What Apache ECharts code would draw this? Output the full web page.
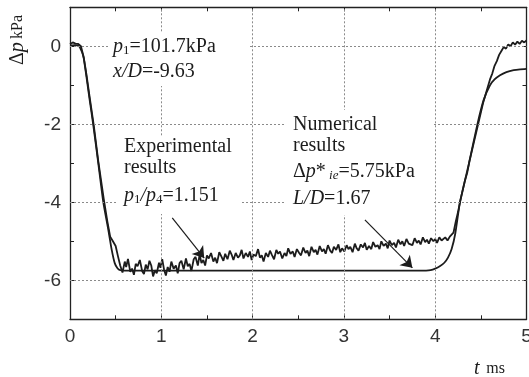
<!DOCTYPE html>
<html><head><meta charset="utf-8">
<script src="https://cdn.jsdelivr.net/npm/echarts@6/dist/echarts.min.js"></script>
<style>html,body{margin:0;padding:0;background:#fff}#c{width:529px;height:377px}</style>
</head><body><div id="c"></div>
<script>
// ---- data ----
const xGridValues = [1, 2, 3, 4];
const yGridValues = [0, -2, -4, -6];
const numTime = [0, 0.05, 0.1, 0.13, 0.15, 0.18, 0.22, 0.255, 0.31, 0.365, 0.42, 0.457, 0.49, 0.52, 0.55, 0.6, 3.9, 3.95, 4.0, 4.05, 4.1, 4.14, 4.18, 4.22, 4.27, 4.37, 4.46, 4.53, 4.6, 4.65, 4.71, 4.78, 4.86, 4.93, 5.0];
const numDp = [0.02, 0.03, 0.0, -0.14, -0.3, -0.78, -1.45, -2.02, -3.0, -4.0, -4.71, -5.22, -5.56, -5.69, -5.74, -5.75, -5.75, -5.74, -5.7, -5.64, -5.55, -5.42, -5.2, -4.8, -4.02, -3.0, -2.02, -1.38, -1.0, -0.85, -0.74, -0.66, -0.61, -0.59, -0.58];
const expPoints = [
 [0,0.05],[0.03,0.1],[0.06,0.07],[0.09,0.06],[0.12,0.0],[0.15,-0.28],[0.18,-0.72],[0.22,-1.38],[0.26,-2.02],[0.31,-2.95],[0.37,-3.92],[0.41,-4.5],[0.44,-4.88],[0.47,-5.0],[0.5,-5.12],[0.525,-5.38],[0.55,-5.62],
 [0.575,-5.8],[0.6,-5.52],[0.615,-5.66],[0.635,-5.45],[0.66,-5.78],[0.68,-5.7],[0.7,-5.86],[0.72,-5.58],[0.74,-5.64],[0.765,-5.48],[0.79,-5.76],[0.81,-5.84],[0.83,-5.6],[0.85,-5.72],[0.87,-5.5],[0.89,-5.62],[0.91,-5.9],[0.93,-5.74],[0.95,-5.82],[0.975,-5.55],[0.99,-5.68],[1.01,-5.46],[1.03,-5.72],[1.05,-5.88],[1.07,-5.66],[1.09,-5.78],[1.11,-5.52],[1.135,-5.7],[1.16,-5.62],[1.18,-5.82],[1.2,-5.56],[1.22,-5.5],[1.245,-5.72],[1.27,-5.44],[1.29,-5.64],[1.31,-5.58],[1.33,-5.76],[1.355,-5.46],[1.375,-5.4],[1.4,-5.62],[1.42,-5.34],[1.44,-5.56],[1.46,-5.48],[1.48,-5.62],[1.5,-5.36],[1.52,-5.44],[1.545,-5.3],[1.57,-5.52],[1.59,-5.42],[1.61,-5.56],[1.635,-5.28],[1.66,-5.4],[1.68,-5.5],[1.7,-5.32],[1.725,-5.46],[1.75,-5.24],[1.77,-5.34],[1.79,-5.48],[1.815,-5.3],[1.84,-5.42],[1.86,-5.36],[1.88,-5.22],[1.9,-5.44],[1.925,-5.3],[1.95,-5.4],[1.97,-5.26],[1.99,-5.48],[2.01,-5.34],[2.035,-5.38],[2.06,-5.2],[2.08,-5.42],[2.1,-5.36],[2.12,-5.52],[2.145,-5.3],[2.17,-5.4],[2.19,-5.24],[2.21,-5.34],[2.235,-5.46],[2.26,-5.22],[2.28,-5.32],[2.3,-5.26],[2.325,-5.44],[2.35,-5.3],[2.37,-5.38],[2.39,-5.18],[2.415,-5.32],[2.44,-5.26],[2.46,-5.4],[2.485,-5.2],[2.51,-5.3],[2.53,-5.36],[2.555,-5.16],[2.58,-5.3],[2.6,-5.24],[2.62,-5.38],[2.645,-5.14],[2.67,-5.28],[2.69,-5.22],[2.71,-5.34],[2.735,-5.12],[2.76,-5.26],[2.78,-5.2],[2.8,-5.32],[2.825,-5.1],[2.85,-5.24],[2.87,-5.3],[2.89,-5.14],[2.915,-5.22],[2.94,-5.08],[2.96,-5.28],[2.98,-5.18],[3.005,-5.26],[3.03,-5.1],[3.05,-5.2],[3.07,-5.14],[3.095,-5.28],[3.12,-5.06],[3.14,-5.18],[3.16,-5.24],[3.185,-5.08],[3.21,-5.16],[3.23,-5.04],[3.25,-5.22],[3.275,-5.12],[3.3,-5.2],[3.32,-5.02],[3.345,-5.14],[3.37,-5.1],[3.39,-5.2],[3.41,-5.0],[3.435,-5.12],[3.46,-5.06],[3.48,-5.18],[3.5,-4.98],[3.525,-5.1],[3.55,-5.04],[3.57,-5.16],[3.595,-4.96],[3.62,-5.08],[3.64,-5.0],[3.66,-5.12],[3.685,-4.94],[3.71,-5.06],[3.73,-5.02],[3.75,-5.1],[3.775,-4.92],[3.8,-5.04],[3.82,-4.98],[3.84,-5.08],[3.865,-4.9],[3.89,-5.02],[3.91,-4.96],[3.93,-5.06],[3.955,-4.92],[3.98,-5.0],[4.0,-4.94],[4.02,-5.04],[4.045,-4.9],[4.07,-4.98],[4.09,-5.02],[4.11,-4.9],[4.135,-4.98],[4.16,-4.88],[4.18,-4.92],
 [4.2,-4.78],[4.225,-4.5],[4.25,-4.25],[4.275,-3.95],[4.3,-3.7],[4.325,-3.45],[4.35,-3.25],[4.375,-2.95],[4.4,-2.7],[4.425,-2.45],[4.45,-2.2],[4.475,-1.95],[4.5,-1.7],[4.525,-1.45],[4.55,-1.25],[4.575,-1.05],[4.6,-0.85],[4.625,-0.7],[4.65,-0.5],[4.675,-0.38],[4.7,-0.22],[4.725,-0.12],[4.75,-0.02],[4.775,-0.06],[4.8,0.05],[4.825,0.0],[4.85,0.1],[4.875,0.04],[4.9,0.12],[4.925,0.06],[4.95,0.14],[4.975,0.1],[5.0,0.15]
];
const expArrow = [[1.12, -4.40], [1.47, -5.43]];
const numArrow = [[3.23, -4.45], [3.75, -5.68]];

// ---- chart ----
const SANS = '"Liberation Sans", Arial, sans-serif';
const SERIF = '"Liberation Serif", "DejaVu Serif", serif';
const INK = '#1c1c1c';
const numPoints = numTime.map((t, i) => [t, numDp[i]]);

const rich = {
  n: {fontFamily: SERIF, fontSize: 20, lineHeight: 21, color: INK},
  i: {fontFamily: SERIF, fontSize: 20, lineHeight: 21, color: INK, fontStyle: 'italic'},
  s: {fontFamily: SERIF, fontSize: 13, lineHeight: 13, color: INK, verticalAlign: 'bottom'},
  si: {fontFamily: SERIF, fontSize: 13, lineHeight: 13, color: INK, fontStyle: 'italic', verticalAlign: 'bottom'},
  k: {fontFamily: SERIF, fontSize: 16, lineHeight: 21, color: INK}
};
function txt(x, y, text, extra) {
  return Object.assign({type: 'text', x: x, y: y, z: 60,
    style: {text: text, rich: rich, align: 'left', verticalAlign: 'middle', fill: INK}}, extra || {});
}
function box(x, y, w, h) {
  return {type: 'rect', z: 50, shape: {x: x, y: y, width: w, height: h}, style: {fill: '#fff'}};
}

const xAxisBase = {
  type: 'value', min: 0, max: 5, interval: 0.5,
  axisLine: {show: true, onZero: false, lineStyle: {color: '#222', width: 1.3}},
  axisTick: {show: true, inside: true, length: 4, lineStyle: {color: '#222', width: 1}},
  splitLine: {show: false}
};
const yAxisBase = {
  type: 'value', min: -7, max: 1, interval: 1,
  axisLine: {show: true, onZero: false, lineStyle: {color: '#222', width: 1.3}},
  axisTick: {show: true, inside: true, length: 4, lineStyle: {color: '#222', width: 1}},
  splitLine: {show: false}
};

const chart = echarts.init(document.getElementById('c'), null, {renderer: 'canvas'});
chart.setOption({
  animation: false,
  backgroundColor: '#fff',
  grid: {left: 70, right: 2.5, top: 7.3, bottom: 57.7, containLabel: false, outerBoundsMode: 'none'},
  xAxis: [
    Object.assign({}, xAxisBase, {position: 'bottom',
      axisLabel: {formatter: v => (Number.isInteger(v) ? String(v) : ''), fontFamily: SANS, fontSize: 19, color: '#333', margin: 8}}),
    Object.assign({}, xAxisBase, {position: 'top', axisLabel: {show: false}})
  ],
  yAxis: [
    Object.assign({}, yAxisBase, {position: 'left',
      axisLabel: {formatter: v => (v % 2 === 0 ? String(v) : ''), fontFamily: SANS, fontSize: 19, color: '#333', margin: 9}}),
    Object.assign({}, yAxisBase, {position: 'right', axisLabel: {show: false}})
  ],
  series: [
    {
      type: 'line', data: [[0, 0]], showSymbol: false, silent: true, z: 1,
      lineStyle: {opacity: 0},
      markLine: {
        silent: true, symbol: ['none', 'none'], label: {show: false},
        lineStyle: {type: [2, 2], color: '#8a8a8a', width: 1},
        emphasis: {disabled: true},
        data: yGridValues.map(v => ({yAxis: v})).concat(xGridValues.map(v => ({xAxis: v})))
      }
    },
    {
      name: 'Experimental', type: 'line', data: expPoints, showSymbol: false, z: 3,
      lineStyle: {color: INK, width: 1.8}, itemStyle: {color: INK},
      markLine: {
        silent: true, symbol: ['none', 'arrow'], symbolSize: 11, label: {show: false},
        lineStyle: {type: 'solid', color: INK, width: 1.2},
        emphasis: {disabled: true},
        data: [
          [{coord: expArrow[0]}, {coord: expArrow[1]}],
          [{coord: numArrow[0]}, {coord: numArrow[1]}]
        ]
      }
    },
    {
      name: 'Numerical', type: 'line', data: numPoints, showSymbol: false, z: 4, smooth: 0.2,
      lineStyle: {color: INK, width: 1.8}, itemStyle: {color: INK}
    }
  ],
  graphic: [
    box(108, 32, 141, 54),
    box(117, 137, 125, 77),
    box(286, 110, 146, 105),
    txt(113, 47, '{i|p}{s|1}{n|=101.7kPa}'),
    txt(113, 72, '{i|x/D}{n|=-9.63}'),
    txt(124, 157, '{n|Experimental}\n{n|results}'),
    txt(124, 196, '{i|p}{s|1}{i|/p}{s|4}{n|=1.151}'),
    txt(293, 135, '{n|Numerical}\n{n|results}'),
    txt(293, 172, '{n|Δ}{i|p}{n|*}{si| ie}{n|=5.75kPa}'),
    txt(293, 199, '{i|L/D}{n|=1.67}'),
    txt(18, 40, '', {rotation: Math.PI / 2, style: {text: '{n|Δ}{i|p} {k|kPa}', rich: rich, align: 'center', verticalAlign: 'middle', fill: INK}}),
    txt(474, 369, '{i|t}  {k|ms}')
  ]
});
</script>
</body></html>
